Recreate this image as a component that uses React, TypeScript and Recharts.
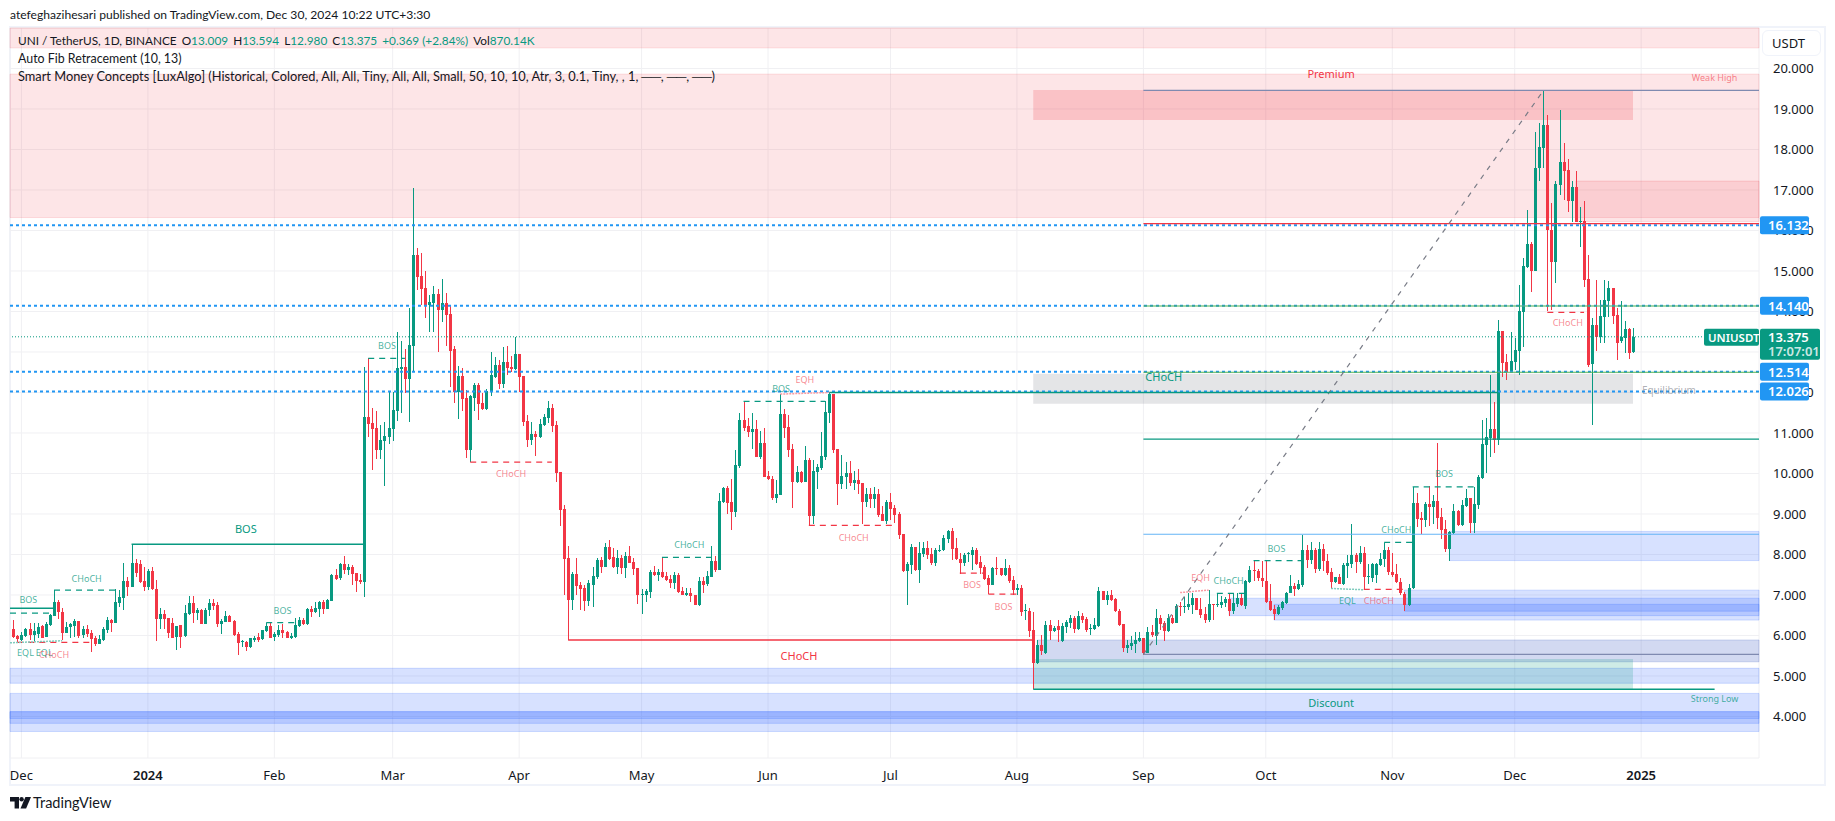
import React from "react";
import {
  ComposedChart,
  Bar,
  XAxis,
  YAxis,
  CartesianGrid,
  ReferenceArea,
  ReferenceLine,
  ReferenceDot,
} from "recharts";

const GREEN = "#089981";
const RED = "#f23645";
const BLUE = "#2196f3";

// one row per daily candle: open, close, high, low
const nov23 = [[6.16,5.97,6.38,5.95],[5.98,5.92,6.01,5.82]];
const dec23 = [
  [5.9,6,6.08,5.87],[5.99,6.16,6.19,5.97],[6.15,6.01,6.32,5.9],[6.01,6.11,6.32,5.85],[6.03,6.22,6.32,5.95],[6.23,5.95,6.27,5.95],[5.96,6.28,6.34,5.96],[6.25,6.5,6.54,6.23],
  [6.49,6.82,7.12,6.47],[6.83,6.59,6.87,6.4],[6.59,6.07,6.69,5.89],[6.07,6.21,6.33,6.05],[6.22,6.28,6.32,5.93],[6.23,6.35,6.41,5.97],[6.35,5.99,6.35,5.95],[6,6.15,6.23,5.95],
  [6.15,6.03,6.25,5.97],[6.05,5.91,6.13,5.59],[5.94,5.79,5.99,5.74],[5.79,5.91,6.01,5.79],[5.89,6.16,6.22,5.86],[6.13,6.38,6.46,6.07],[6.38,6.31,6.41,6.09],[6.31,6.83,7.16,6.3],
  [6.81,6.95,7.12,6.71],[6.93,7.34,7.78,6.64],[7.34,7.2,7.45,6.97],[7.2,7.79,8.25,7.19],[7.79,7.55,7.88,7.45],[7.76,7.32,7.86,7.29],[7.34,7.2,7.68,7.11],
];
const jan24 = [
  [7.2,7.59,7.63,7.12],[7.59,7.15,7.7,7.12],[7.16,6.41,7.37,5.87],[6.41,6.53,6.69,6.17],[6.53,6.41,6.63,6.17],[6.43,6.07,6.43,5.95],[6.31,5.95,6.42,5.93],[5.97,6.23,6.23,5.64],
  [6.25,5.97,6.25,5.69],[5.99,6.55,6.76,5.97],[6.53,6.8,6.97,6.5],[6.8,6.56,6.97,6.32],[6.56,6.64,6.69,6.38],[6.64,6.29,6.66,6.28],[6.29,6.64,6.69,6.28],[6.64,6.8,6.91,6.48],
  [6.8,6.73,6.89,6.64],[6.75,6.28,6.83,6.22],[6.29,6.36,6.4,6.04],[6.34,6.48,6.61,6.33],[6.48,6.34,6.5,6.34],[6.36,6.01,6.38,5.99],[6.03,5.82,6.09,5.53],[5.85,5.87,5.89,5.72],
  [5.85,5.71,5.87,5.62],[5.71,5.94,5.95,5.69],[5.9,5.95,5.98,5.84],[5.96,5.9,6.05,5.84],[5.92,6.13,6.13,5.89],[6.12,6.23,6.31,6.09],[6.23,5.95,6.3,5.95],
];
const feb24 = [
  [5.97,6.04,6.08,5.87],[6.02,6.13,6.26,5.97],[6.13,6.05,6.28,5.95],[6.08,5.94,6.12,5.93],[5.94,5.99,6.07,5.91],[5.97,6.26,6.44,5.95],[6.23,6.38,6.45,6.2],[6.39,6.28,6.44,6.27],
  [6.28,6.66,6.67,6.27],[6.66,6.57,6.73,6.46],[6.57,6.69,6.83,6.55],[6.65,6.83,6.85,6.46],[6.83,6.65,6.87,6.53],[6.65,6.87,6.89,6.65],[6.86,7.49,7.51,6.85],[7.49,7.39,7.63,7.38],
  [7.41,7.77,7.8,7.38],[7.77,7.62,7.96,7.52],[7.62,7.69,7.76,7.49],[7.69,7.53,7.74,7.25],[7.55,7.34,7.55,7.07],[7.36,7.32,7.53,7.28],[7.33,11.39,12.63,6.96],[11.39,11.22,12.84,10.91],
  [11.25,11.1,11.62,10.09],[11.12,10.58,11.55,10.37],[10.58,10.83,11.2,10.37],[10.81,10.93,11.28,9.69],[10.91,11.12,12.02,10.74],
];
const mar24 = [
  [11.1,11.57,12.02,10.81],[11.55,12.6,13.49,11.3],[12.58,12.64,13.27,11.5],[12.63,12.33,13.07,11.99],[12.33,13.17,14.09,11.28],[13.15,15.39,17.04,12.52],[15.39,14.86,15.57,14.53],[14.88,14.56,15.45,14.16],
  [14.58,14.16,15,13.85],[14.16,14.24,14.41,13.49],[14.22,14.43,14.63,13.49],[14.43,14.04,14.56,13],[14.04,14.21,14.8,13.74],[14.2,13.91,14.46,13.15],[13.94,13.03,14.16,12.14],[13.07,12,13.15,11.75],
  [12,12.41,12.65,11.35],[12.41,11.85,12.6,11.55],[11.87,10.58,12.05,10.39],[10.58,11.91,11.94,10.28],[11.87,12.19,12.24,11.55],[12.18,11.72,12.23,11.32],[11.74,11.59,11.99,11.57],[11.59,12.04,12.09,11.57],
  [12,12.43,13,11.91],[12.38,12.68,12.88,12.36],[12.68,12.21,12.8,12.09],[12.21,12.75,13.12,12.11],[12.75,12.61,13.15,12.43],[12.63,12.58,12.9,12.51],[12.58,12.95,13.36,12.56],
];
const apr24 = [
  [12.95,12.38,12.95,12.02],[12.41,11.27,12.41,11.17],[11.3,10.83,11.44,10.65],[10.83,10.97,11.27,10.7],[10.97,10.9,11.05,10.43],[10.9,11.22,11.35,10.88],[11.2,11.39,11.47,11.17],[11.37,11.62,11.79,11.25],
  [11.62,11.17,11.72,11.02],[11.2,10.01,11.3,9.79],[10.04,9.1,10.04,8.71],[9.12,7.89,9.21,7],[7.91,6.88,8.21,5.89],[6.88,7.52,7.57,6.63],[7.52,7.22,7.91,7],[7.25,7.15,7.32,6.63],
  [7.17,6.86,7.25,6.61],[6.85,7.3,7.37,6.73],[7.25,7.47,7.69,6.7],[7.45,7.87,7.91,7.4],[7.87,7.69,7.94,7.54],[7.69,8.19,8.28,7.69],[8.19,7.89,8.36,7.87],[7.94,7.69,8.16,7.66],
  [7.69,7.91,8.11,7.52],[7.91,7.67,7.99,7.52],[7.67,7.96,8.06,7.42],[7.96,7.79,8.21,7.79],[7.81,7.64,7.91,7.5],[7.67,7,7.67,6.78],
];
const may24 = [
  [7,7.02,7.15,6.53],[7,7.1,7.15,6.83],[7.07,7.57,7.62,6.93],[7.57,7.5,7.72,7.47],[7.5,7.57,7.64,7.35],[7.57,7.45,7.94,7.42],[7.47,7.37,7.57,7.35],[7.4,7.3,7.5,7.17],
  [7.3,7.5,7.57,7.15],[7.5,7.07,7.54,7.05],[7.1,7,7.2,7],[7,7.04,7.17,6.98],[7.04,6.98,7.17,6.83],[7,6.75,7,6.75],[6.75,7.35,7.45,6.73],[7.35,7.25,7.45,7.05],
  [7.27,7.47,7.59,7.22],[7.45,7.84,8.21,7.45],[7.84,7.62,7.96,7.57],[7.62,9.32,9.52,7.62],[9.3,9.65,9.67,9.27],[9.65,9.27,9.69,9],[9.3,9.05,9.87,8.61],[9.05,10.21,10.58,8.93],
  [10.19,11.32,11.5,10.14],[11.32,11.12,11.79,11.05],[11.17,11.03,11.37,10.9],[11.03,11.1,11.5,10.61],[11.1,10.41,11.32,10.41],[10.41,10.75,11.05,10.36],[10.75,9.91,11.12,9.91],
];
const jun24 = [
  [9.94,9.87,10.06,9.84],[9.87,9.4,9.94,9.35],[9.4,9.5,9.84,9.27],[9.47,11.47,11.96,9.47],[11.47,11.12,11.59,10.88],[11.15,10.58,11.45,10.41],[10.61,9.79,10.73,9.15],[9.79,10.04,10.19,9.77],
  [10.04,9.79,10.06,9.77],[9.79,10.33,10.68,9.79],[10.33,8.95,10.38,8.71],[8.95,10.06,10.33,8.75],[10.04,10.16,10.24,9.62],[10.14,10.43,11.03,10.09],[10.41,11.52,11.79,10.33],[11.5,11.96,12,11.24],
  [11.96,10.58,11.96,10.51],[10.61,9.74,10.61,9.22],[9.74,9.94,10.46,9.62],[9.91,10.01,10.28,9.62],[10.01,9.77,10.31,9.69],[9.77,9.84,10.06,9.6],[9.84,9.74,10.11,9.49],[9.77,9.3,9.77,8.75],
  [9.3,9.49,9.64,9.17],[9.49,9.37,9.64,9.15],[9.37,9.49,9.66,9.15],[9.49,8.98,9.62,8.93],[9,8.83,9.2,8.83],[8.83,9.3,9.35,8.75],
];
const jul24 = [
  [9.3,9.12,9.52,8.85],[9.15,8.98,9.22,8.78],[9,8.48,9.05,8.38],[8.51,7.59,8.51,7.57],[7.59,7.77,7.82,6.75],[7.74,8.19,8.26,7.52],[8.19,7.62,8.19,7.59],[7.62,8.04,8.31,7.3],
  [8,8.15,8.3,7.95],[8.15,7.99,8.33,7.9],[8.01,7.78,8.15,7.74],[7.78,8.11,8.15,7.72],[8.09,8.12,8.24,8.07],[8.11,8.41,8.48,8.09],[8.38,8.58,8.6,8.28],[8.58,8.14,8.65,7.86],
  [8.15,7.89,8.4,7.86],[7.9,7.78,8.03,7.53],[7.79,7.99,8.03,7.72],[8,8.03,8.05,7.82],[7.99,8.11,8.19,7.62],[8.11,7.77,8.15,7.74],[7.81,7.67,7.96,7.53],[7.69,7.39,7.74,7.37],
  [7.42,7.25,7.49,7.02],[7.25,7.67,7.7,7.24],[7.67,7.65,7.95,7.49],[7.67,7.49,7.67,7.47],[7.49,7.67,7.89,7.47],[7.67,7.35,7.74,7.29],[7.37,7.12,7.47,7],
];
const aug24 = [
  [7.13,7.17,7.26,7],[7.17,6.58,7.25,6.48],[6.6,6.62,6.78,6.38],[6.6,6.11,6.69,5.97],[6.14,5.32,6.58,4.67],[5.32,5.77,5.9,5.3],[5.77,5.62,6.01,5.53],[5.57,6.26,6.36,5.54],
  [6.26,6.11,6.38,5.89],[6.11,6.19,6.23,6.09],[6.23,6.14,6.38,5.85],[5.87,6.23,6.3,5.84],[6.2,6.33,6.38,6.06],[6.31,6.43,6.51,6.19],[6.43,6.16,6.47,6.06],[6.16,6.48,6.6,6.14],
  [6.48,6.38,6.55,6.3],[6.41,6.14,6.45,6.09],[6.16,6.18,6.28,6.01],[6.16,6.26,6.43,6.14],[6.23,7.1,7.2,6.22],[7.1,6.88,7.11,6.88],[6.88,7,7.1,6.75],[7,6.88,7.12,6.85],
  [6.9,6.61,6.93,6.58],[6.61,6.26,6.65,6.23],[6.28,5.69,6.28,5.59],[5.69,5.77,5.9,5.57],[5.74,5.81,5.99,5.64],[5.79,5.89,6.08,5.57],[5.86,5.93,6.09,5.84],
];
const sep24 = [
  [5.93,5.57,5.93,5.53],[5.57,6.09,6.22,5.56],[6.09,6.01,6.25,5.97],[5.98,6.43,6.65,5.76],[6.43,6.28,6.51,6.14],[6.3,6.12,6.37,5.87],[6.12,6.43,6.53,6.09],[6.43,6.3,6.5,6.28],
  [6.31,6.73,6.78,6.31],[6.73,6.7,6.83,6.48],[6.7,6.73,6.96,6.55],[6.7,6.78,7.05,6.63],[6.75,6.92,7.06,6.53],[6.92,6.63,6.92,6.63],[6.65,6.51,6.92,6.42],[6.53,6.38,6.71,6.3],
  [6.38,6.77,7.12,6.34],[6.77,6.75,6.77,6.38],[6.75,6.78,7.04,6.71],[6.75,6.83,6.98,6.67],[6.8,6.89,6.94,6.71],[6.91,6.6,7.04,6.48],[6.6,6.79,7.04,6.53],[6.77,6.92,7.04,6.71],
  [6.92,6.75,7.04,6.73],[6.74,7.35,7.37,6.65],[7.32,7.62,7.72,7.3],[7.62,7.6,7.86,7.35],[7.6,7.42,7.63,7.34],[7.43,7.35,7.85,7.2],
];
const oct24 = [
  [7.35,6.83,7.85,6.8],[6.84,6.63,7.28,6.6],[6.65,6.53,6.76,6.38],[6.53,6.7,6.75,6.5],[6.67,6.83,6.86,6.63],[6.79,7.06,7.08,6.78],[7.05,7.22,7.49,7.04],[7.22,7.15,7.29,6.98],
  [7.15,7.27,7.37,7.12],[7.25,8.11,8.49,7.2],[8.11,7.86,8.24,7.66],[7.86,8.11,8.31,7.77],[8.11,7.64,8.15,7.54],[7.64,8.13,8.31,7.6],[8.13,7.84,8.27,7.6],[7.84,7.54,8.01,7.49],
  [7.56,7.32,7.66,7.16],[7.32,7.45,7.45,7.29],[7.45,7.27,7.53,7.27],[7.27,7.74,7.8,7.25],[7.71,7.78,7.99,7.41],[7.76,7.99,8.75,7.66],[7.99,7.81,8.03,7.55],[7.81,8.03,8.21,7.76],
  [8.03,7.45,8.18,7.12],[7.44,7.47,7.77,7.27],[7.42,7.77,7.78,7.33],[7.5,7.77,7.8,7.29],[7.74,7.9,8.03,7.71],[7.89,8.11,8.29,7.7],[8.11,7.56,8.18,7.49],
];
const nov24 = [
  [7.57,7.49,8.03,7.45],[7.53,7.33,7.77,7.3],[7.33,7.04,7.41,7],[7.02,6.75,7.08,6.6],[6.75,7.18,7.27,6.73],[7.17,9.27,9.67,7.16],[9.27,8.88,9.53,8.67],[8.89,8.84,9.06,8.5],
  [8.84,9.25,9.3,8.67],[9.25,9.18,9.69,8.7],[9.17,9.31,9.47,8.75],[9.31,8.91,10.75,8.63],[8.92,8.6,9.14,8.38],[8.63,8.14,8.85,8.07],[8.14,8.55,8.59,7.85],[8.52,9.07,9.25,8.51],
  [9.07,8.73,9.1,8.7],[8.73,9.22,9.34,8.7],[9.2,9.4,9.61,9.18],[9.4,8.77,9.4,8.54],[8.77,9.25,9.67,8.52],[9.22,9.91,9.96,9.12],[9.89,10.73,11.32,9.87],[10.71,10.89,11.36,10],
  [10.87,11.1,12.43,10.4],[11.1,10.83,11.77,10.5],[10.83,13.52,13.79,10.7],[13.52,12.72,13.52,12.39],[12.76,12.51,12.95,12.31],[12.51,12.78,13.5,12.51],
];
const dec24 = [
  [12.76,13.05,13.34,12.56],[13.02,14.01,14.65,12.43],[13.99,15.12,15.31,13.13],[15.09,15.67,16.51,15.07],[15.67,15.01,15.72,14.49],[15.01,17.54,18.44,15.01],[17.54,18.05,18.65,17.23],[18.04,18.6,19.45,17.54],
  [18.6,16,18.85,14],[16.01,15.23,16.67,14.04],[15.23,17.15,17.23,14.71],[17.12,17.7,18.98,16.88],[17.7,17.48,18.15,16.75],[17.49,16.74,17.76,16.46],[16.74,17.08,17.23,16.22],[17.08,16.22,17.47,16.22],
  [16.22,16.24,16.59,15.6],[16.23,14.78,16.74,14.61],[14.8,12.68,15.4,12.64],[12.7,13.67,13.83,11.2],[13.67,13.36,14.78,13.03],[13.36,13.89,14.28,13.23],[13.87,14.28,14.78,13.23],[14.27,14.58,14.75,13.87],
  [14.58,13.89,14.58,13.68],[13.91,13.23,14.09,12.8],[13.26,13.36,14.27,13.23],[13.34,13.57,13.77,12.97],[13.58,12.98,13.6,12.83],[13.009,13.375,13.594,12.98],
];

const FIRST_DAY = -2; // 29 Nov 2023, day 0 is 1 Dec 2023
const DAY_MIN = -2.794;
const DAY_MAX = 425.88;
const PRICE_MIN = 2.975;
const PRICE_MAX = 21;

const monthDays = [0, 31, 62, 91, 122, 152, 183, 213, 244, 275, 305, 336, 366, 397];
const monthLabels = ["Dec", "2024", "Feb", "Mar", "Apr", "May", "Jun", "Jul", "Aug", "Sep", "Oct", "Nov", "Dec", "2025"];
const priceTicks = [4, 5, 6, 7, 8, 9, 10, 11, 12, 13, 14, 15, 16, 17, 18, 19, 20];
const levelTags = [16.132, 14.14, 12.514, 12.026];
const lastPrice = 13.375;

// zones: day from, day to, top price, bottom price
const premiumZones = [
  [DAY_MIN, DAY_MAX, 21, 20.51],
  [DAY_MIN, DAY_MAX, 19.86, 16.32],
  [381, DAY_MAX, 17.22, 16.22],
];
const demandZones = [
  [DAY_MIN, DAY_MAX, 5.19, 4.82],
  [DAY_MIN, DAY_MAX, 4.57, 3.63],
  [DAY_MIN, DAY_MAX, 4.12, 3.83],
  [DAY_MIN, DAY_MAX, 4.12, 3.95],
  [296, DAY_MAX, 6.92, 6.49],
  [307, DAY_MAX, 6.77, 6.38],
  [339, DAY_MAX, 7.12, 6.6],
  [350, DAY_MAX, 8.57, 7.85],
];
const mixedZones = [[249, DAY_MAX, 5.89, 5.35]];
const fibBoxTop = [248, 395, 19.47, 18.73];
const fibBoxMid = [248, 395, 12.46, 11.72];
const fibBoxLow = [248, 395, 5.42, 4.67];

// fib levels start at the pivot day and run to the pane edge
const FIB_START = 275;
const fibGrey = [19.46, 5.535];
const fibRed = [16.17];
const fibGreen = [14.136, 12.5];
const fibTeal = [10.85];
const fibBlue = [8.5];
const fibDiagonal = [[275, 5.535], [373, 19.45]];

// structure lines: day from, day to, price from, price to
const bullSolid = [[DAY_MIN, 8, 6.67, 6.67], [27, 84, 8.25, 8.25], [198, 362, 12, 12], [248, 415, 4.67, 4.67]];
const bearSolid = [[134, 248, 5.89, 5.89]];
const bullDashed = [
  [DAY_MIN, 7.5, 6.55, 6.55], [8, 24, 7.12, 7.12], [60, 67, 6.32, 6.32], [85, 94, 12.84, 12.84], [157, 170, 7.93, 7.93],
  [177, 197, 11.78, 11.78], [293, 300, 7.04, 7.04], [302, 314, 7.85, 7.85], [334, 341, 8.3, 8.3], [341, 356, 9.67, 9.67],
];
const bearDashed = [
  [-1, 17, 5.83, 5.83], [110, 130, 10.28, 10.28], [193, 214, 8.72, 8.72], [230, 236, 7.54, 7.54], [237, 244, 7.02, 7.02],
  [329, 339, 7.14, 7.14], [374, 383, 13.98, 13.98],
];
const bullDotted = [[DAY_MIN, 10, 5.82, 5.87], [321, 329, 7.16, 7.13]];
const bearDotted = [[186, 198, 11.96, 12], [284, 291, 7.06, 7.12]];

// text labels: day, price, text
const bullTiny = [
  [1.7, 6.87, "BOS"], [16, 7.41, "CHoCH"], [64, 6.61, "BOS"], [89.6, 13.16, "BOS"], [163.7, 8.24, "CHoCH"], [186.2, 12.1, "BOS"],
  [295.9, 7.34, "CHoCH"], [307.6, 8.15, "BOS"], [337, 8.62, "CHoCH"], [348.7, 10, "BOS"], [325, 6.86, "EQL"],
  [1, 5.57, "EQL"], [5.6, 5.57, "EQL"], [415, 4.43, "Strong Low"],
];
const bearTiny = [
  [8, 5.53, "CHoCH"], [120, 10, "CHoCH"], [192, 12.32, "EQH"], [204, 8.42, "CHoCH"], [233, 7.24, "BOS"], [240.7, 6.71, "BOS"],
  [289, 7.43, "EQH"], [332.7, 6.86, "CHoCH"], [379, 13.71, "CHoCH"], [415, 19.77, "Weak High"],
];
const bullSmall = [[55, 8.62, "BOS"], [280, 12.38, "CHoCH"], [321, 4.32, "Discount"]];
const bearSmall = [[190.6, 5.48, "CHoCH"], [321, 19.86, "Premium"]];
const greySmall = [[403.8, 12.06, "Equilibrium"]];

const candleRows = [...nov23, ...dec23, ...jan24, ...feb24, ...mar24, ...apr24, ...may24, ...jun24, ...jul24, ...aug24, ...sep24, ...oct24, ...nov24, ...dec24];
const chartData = candleRows.map((row, i) => ({
  day: FIRST_DAY + i,
  open: row[0],
  close: row[1],
  high: row[2],
  low: row[3],
  range: [row[3], row[2]],
}));

const FONT = "'Noto Sans', sans-serif";
const TEXT_FONT = "Lato, sans-serif";
const CHART_MARGIN = { top: 28, right: 10, bottom: 33, left: 10 };

function Candle(props: any) {
  const { x, y, width, height, payload } = props;
  const { open, close, high, low } = payload;
  const up = close >= open;
  const color = up ? GREEN : RED;
  const span = high - low || 1;
  const toY = (v: number) => y + ((high - v) / span) * height;
  const top = toY(Math.max(open, close));
  const bottom = toY(Math.min(open, close));
  const left = Math.round(x + width / 2 - 1.5);
  return (
    <g shapeRendering="crispEdges">
      <rect x={left + 1} y={y} width={1} height={Math.max(height, 1)} fill={color} />
      <rect x={left} y={top} width={3} height={Math.max(bottom - top, 1)} fill={color} />
    </g>
  );
}

function TimeTick(props: any) {
  const { x, y, payload } = props;
  const label = monthLabels[monthDays.indexOf(payload.value)];
  const isYear = label === "2024" || label === "2025";
  return (
    <text x={x} y={y + 14} textAnchor="middle" fontFamily={FONT} fontSize={13} fontWeight={isYear ? 600 : 400} fill="#131722">
      {label}
    </text>
  );
}

function LevelTag(props: any) {
  const { viewBox, value } = props;
  const left = viewBox.x + viewBox.width + 1;
  return (
    <g>
      <rect x={left} y={viewBox.y - 9} width={49} height={18} rx={2} fill={BLUE} />
      <text x={left + 8} y={viewBox.y + 5} fontFamily={FONT} fontSize={13} fontWeight={600} fill="#fff">
        {value}
      </text>
    </g>
  );
}

function LastTag(props: any) {
  const { viewBox } = props;
  const left = viewBox.x + viewBox.width + 1;
  return (
    <g fontFamily={FONT} fontSize={13} fontWeight={600}>
      <rect x={left - 56} y={viewBox.y - 8} width={55} height={17} rx={2} fill={GREEN} />
      <text x={left - 52} y={viewBox.y + 5} fill="#fff" fontSize={11.5}>UNIUSDT</text>
      <rect x={left} y={viewBox.y - 8} width={60} height={31} rx={2} fill={GREEN} />
      <text x={left + 8} y={viewBox.y + 5} fill="#fff">13.375</text>
      <text x={left + 8} y={viewBox.y + 19} fill="#fff" fillOpacity={0.8}>17:07:01</text>
    </g>
  );
}

function zoneAreas(zones: number[][], fill: string, stroke: string, name: string) {
  return zones.map((z, i) => (
    <ReferenceArea key={name + i} x1={z[0]} x2={z[1]} y1={z[3]} y2={z[2]} fill={fill} fillOpacity={1} stroke={stroke} strokeWidth={1} />
  ));
}

function segmentLines(rows: number[][], stroke: string, dash: string | undefined, width: number, name: string) {
  return rows.map((s, i) => (
    <ReferenceLine
      key={name + i}
      segment={[{ x: s[0], y: s[2] }, { x: s[1], y: s[3] }]}
      stroke={stroke}
      strokeDasharray={dash}
      strokeWidth={width}
    />
  ));
}

function fibLines(levels: number[], stroke: string, name: string) {
  return segmentLines(levels.map((p) => [FIB_START, DAY_MAX, p, p]), stroke, undefined, 1.2, name);
}

function textLabels(rows: any[], fill: string, size: number, opacity: number, name: string) {
  return rows.map((t, i) => (
    <ReferenceDot
      key={name + i}
      x={t[0]}
      y={t[1]}
      r={0}
      stroke="none"
      label={{ value: t[2], position: "center", fill, fontSize: size, fontFamily: FONT, fillOpacity: opacity }}
    />
  ));
}

const boxStyle: React.CSSProperties = { position: "absolute", fontFamily: TEXT_FONT, color: "#131722", whiteSpace: "nowrap" };

export default function App() {
  return (
    <div style={{ position: "absolute", left: 0, top: 0, width: 1835, height: 821, background: "#fff", overflow: "hidden" }}>
      <div style={{ ...boxStyle, left: 10, top: 7, fontSize: 12.1 }}>
        atefeghazihesari published on TradingView.com, Dec 30, 2024 10:22 UTC+3:30
      </div>
      <div style={{ position: "absolute", left: 9, top: 26, width: 1813, height: 756, border: "2px solid #f0f3fa" }} />
      <div style={{ position: "absolute", left: 0, top: 0 }}>
        <ComposedChart width={1835} height={821} data={chartData} margin={CHART_MARGIN}>
          <CartesianGrid stroke="#f0f0f3" strokeWidth={1} />
          <XAxis
            dataKey="day"
            type="number"
            domain={[DAY_MIN, DAY_MAX]}
            allowDataOverflow
            ticks={monthDays}
            interval={0}
            height={30}
            axisLine={false}
            tickLine={false}
            tick={<TimeTick />}
          />
          <YAxis
            orientation="right"
            type="number"
            domain={[PRICE_MIN, PRICE_MAX]}
            allowDataOverflow
            ticks={priceTicks}
            interval={0}
            width={66}
            axisLine={false}
            tickLine={false}
            tickMargin={8}
            tickFormatter={(v: number) => v.toFixed(3)}
            tick={{ fill: "#131722", fontSize: 13, fontFamily: FONT, textAnchor: "start" }}
          />

          {zoneAreas(premiumZones, "rgba(242,54,69,0.13)", "rgba(242,54,69,0.15)", "prem")}
          {zoneAreas(demandZones, "rgba(41,98,255,0.19)", "rgba(41,98,255,0.2)", "dem")}
          {zoneAreas(mixedZones, "rgba(50,80,190,0.22)", "rgba(50,80,190,0.2)", "mix")}
          {zoneAreas([fibBoxTop], "rgba(242,54,69,0.2)", "none", "ft")}
          {zoneAreas([fibBoxMid], "rgba(120,123,134,0.2)", "none", "fm")}
          {zoneAreas([fibBoxLow], "rgba(8,153,129,0.2)", "none", "fl")}

          {levelTags.map((p) => (
            <ReferenceLine key={p} y={p} stroke={BLUE} strokeWidth={2} strokeDasharray="3 3" />
          ))}
          <ReferenceLine y={lastPrice} stroke={GREEN} strokeWidth={1} strokeDasharray="1 2" />

          {fibLines(fibGrey, "#7f8ab0", "fg")}
          {fibLines(fibRed, RED, "fr")}
          {fibLines(fibGreen, "#4caf50", "fgr")}
          {fibLines(fibTeal, GREEN, "ft2")}
          {fibLines(fibBlue, "#64b5f6", "fb")}
          <ReferenceLine segment={fibDiagonal.map((p) => ({ x: p[0], y: p[1] }))} stroke="#787b86" strokeDasharray="5 6" strokeWidth={1.2} />

          {segmentLines(bullSolid, GREEN, undefined, 1.5, "bs")}
          {segmentLines(bearSolid, RED, undefined, 1.5, "rs")}
          {segmentLines(bullDashed, GREEN, "6 5", 1.2, "bd")}
          {segmentLines(bearDashed, RED, "6 5", 1.2, "rd")}
          {segmentLines(bullDotted, "#7fcbbd", "2 1", 1.5, "bo")}
          {segmentLines(bearDotted, "#f99aa2", "2 1", 1.5, "ro")}

          <Bar dataKey="range" barSize={3} shape={<Candle />} isAnimationActive={false} />

          {textLabels(bullTiny, GREEN, 9, 0.75, "lt")}
          {textLabels(bearTiny, RED, 9, 0.6, "rt")}
          {textLabels(bullSmall, GREEN, 11, 1, "ls")}
          {textLabels(bearSmall, RED, 11, 1, "rl")}
          {textLabels(greySmall, "#787b86", 10, 0.6, "gl")}
        </ComposedChart>
      </div>
      {/* second chart on the same scales so the price tags sit above the axis ticks */}
      <div style={{ position: "absolute", left: 0, top: 0 }}>
        <ComposedChart width={1835} height={821} data={chartData} margin={CHART_MARGIN}>
          <XAxis dataKey="day" type="number" domain={[DAY_MIN, DAY_MAX]} allowDataOverflow height={30} axisLine={false} tickLine={false} tick={false} />
          <YAxis orientation="right" type="number" domain={[PRICE_MIN, PRICE_MAX]} allowDataOverflow width={66} axisLine={false} tickLine={false} tick={false} />
          {levelTags.map((p) => (
            <ReferenceLine key={p} y={p} stroke="none" label={<LevelTag value={p.toFixed(3)} />} />
          ))}
          <ReferenceLine y={lastPrice} stroke="none" label={<LastTag />} />
        </ComposedChart>
      </div>
      <div style={{ ...boxStyle, left: 18, top: 33, fontSize: 11.8 }}>
        UNI / TetherUS, 1D, BINANCE <span style={{ marginLeft: 2 }}>O</span><span style={{ color: GREEN }}>13.009</span> <span style={{ marginLeft: 2 }}>H</span><span style={{ color: GREEN }}>13.594</span> <span style={{ marginLeft: 2 }}>L</span><span style={{ color: GREEN }}>12.980</span> <span style={{ marginLeft: 2 }}>C</span><span style={{ color: GREEN }}>13.375</span> <span style={{ marginLeft: 2, color: GREEN }}>+0.369 (+2.84%)</span> <span style={{ marginLeft: 2 }}>Vol</span><span style={{ color: GREEN }}>870.14K</span>
      </div>
      <div style={{ ...boxStyle, left: 18, top: 51, fontSize: 12.4 }}>Auto Fib Retracement (10, 13)</div>
      <div style={{ ...boxStyle, left: 18, top: 68, fontSize: 12.8 }}>
        Smart Money Concepts [LuxAlgo] (Historical, Colored, All, All, Tiny, All, All, Small, 50, 10, 10, Atr, 3, 0.1, Tiny, , 1, ──, ──, ──)
      </div>
      <div style={{ position: "absolute", left: 1762, top: 30, width: 59, height: 26, boxSizing: "border-box", border: "1.5px solid #f0f3fa", borderRadius: 6, background: "#fff" }} />
      <div style={{ ...boxStyle, fontFamily: FONT, left: 1772, top: 34, fontSize: 13 }}>USDT</div>
      <svg style={{ position: "absolute", left: 10, top: 797 }} width={21} height={12} viewBox="0 0 21 12">
        <path d="M0 0h9v11.5H4.6V4.4H0z" fill="#131722" />
        <circle cx={11.6} cy={2.2} r={2.2} fill="#131722" />
        <path d="M15.4 0H21l-4.9 11.5h-5.6z" fill="#131722" />
      </svg>
      <div style={{ ...boxStyle, left: 33, top: 794, fontSize: 14.5 }}>TradingView</div>
    </div>
  );
}
